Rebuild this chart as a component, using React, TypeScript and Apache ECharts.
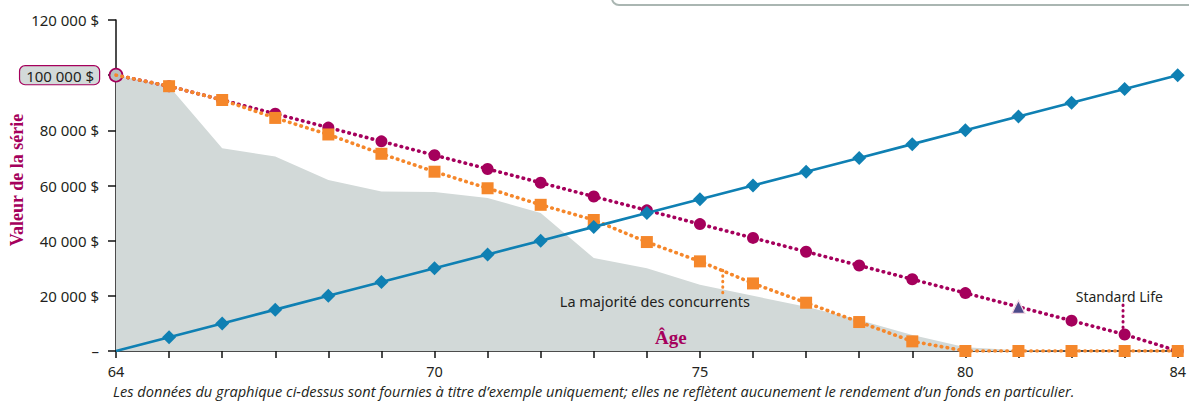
import React, { useEffect, useRef } from "react";
import * as echarts from "echarts";

const ages = [64, 65, 66, 67, 68, 69, 70, 71, 72, 73, 74, 75, 76, 77, 78, 79, 80, 81, 82, 83, 84];
const blueValues = [0, 5000, 10000, 15000, 20000, 25000, 30000, 35000, 40000, 45000, 50000, 55000, 60000, 65000, 70000, 75000, 80000, 85000, 90000, 95000, 100000];
const purpleValues = [100000, 96000, 91000, 86000, 81000, 76000, 71000, 66000, 61000, 56000, 51000, 46000, 41000, 36000, 31000, 26000, 21000, 16000, 11000, 6000, 0];
const orangeValues = [100000, 96000, 91000, 84500, 78500, 71500, 65000, 59000, 53000, 47500, 39500, 32500, 24500, 17500, 10500, 3500, 0, 0, 0, 0, 0];
const greyValues = [100000, 96000, 73500, 70500, 62000, 57800, 57600, 55500, 50000, 33700, 30000, 24000, 20000, 16000, 11200, 5800, 1400, 300, 0, 0, 0];
const xLabels = [64, 70, 75, 80, 84];
const highlightValue = 100000;
const triangleAge = 81;

const PURPLE = "#a5005c";
const ORANGE = "#f5872b";
const BLUE = "#0f80b3";
const GREY = "#d2d9d8";
const TEXT = "#231f20";

function fmt(v: number): string {
  return String(v).replace(/\B(?=(\d{3})+(?!\d))/g, "\u00a0") + "\u00a0$";
}

export default function App() {
  const ref = useRef<HTMLDivElement>(null);
  useEffect(() => {
    if (!ref.current) return;
    const chart = echarts.init(ref.current, null, { renderer: "svg" });
    const dots = { type: [0.5, 5.5] as any, cap: "round" as any, width: 3.6 };
    chart.setOption({
      animation: false,
      grid: { left: 116, right: 9, top: 20, bottom: 51 },
      xAxis: {
        type: "value",
        min: 64,
        max: 84,
        interval: 1,
        axisLine: { show: true, onZero: false, lineStyle: { color: "#111", width: 1.5 } },
        axisTick: { show: true, length: 7, lineStyle: { color: "#111", width: 1.5 } },
        splitLine: { show: false },
        axisLabel: {
          margin: 12,
          fontFamily: "Noto Sans",
          fontSize: 14.5,
          color: TEXT,
          formatter: (v: number) => (xLabels.includes(v) ? String(v) : ""),
        },
      },
      yAxis: {
        type: "value",
        min: 0,
        max: 120000,
        interval: 20000,
        axisLine: { show: true, lineStyle: { color: "#111", width: 1.5 } },
        axisTick: { show: true, length: 8, lineStyle: { color: "#111", width: 1.5 } },
        splitLine: { show: false },
        axisLabel: {
          margin: 17,
          fontFamily: "Noto Sans",
          fontSize: 15,
          color: TEXT,
          formatter: (v: number) =>
            v === 0 ? "–" : v === highlightValue ? "{box|" + fmt(v) + "}" : fmt(v),
          rich: {
            box: {
              fontFamily: "Noto Sans",
              fontSize: 15,
              color: TEXT,
              backgroundColor: "#d3dad9",
              borderColor: PURPLE,
              borderWidth: 1.2,
              borderRadius: 5,
              padding: [2, 5, 1, 6],
            },
          },
        },
      },
      series: [
        {
          type: "line",
          data: ages.map((a, i) => [a, greyValues[i]]),
          symbol: "none",
          lineStyle: { width: 0 },
          areaStyle: { color: GREY, opacity: 1 },
          z: 1,
        },
        {
          type: "line",
          data: ages.map((a, i) => {
            if (i === 0)
              return {
                value: [a, purpleValues[i]],
                symbol: "circle",
                symbolSize: 13,
                itemStyle: { color: "#b9c1c0", borderColor: PURPLE, borderWidth: 1.6 },
              };
            if (a === triangleAge)
              return {
                value: [a, purpleValues[i]],
                symbol: "triangle",
                symbolSize: 13,
                itemStyle: { color: "#4d4a8a", borderColor: "#f3d6e4", borderWidth: 1.2 },
              };
            return [a, purpleValues[i]];
          }),
          symbol: "circle",
          symbolSize: 12,
          itemStyle: { color: PURPLE },
          lineStyle: { color: PURPLE, ...dots },
          z: 3,
        },
        {
          type: "line",
          data: ages.map((a, i) =>
            i === 0 ? { value: [a, orangeValues[i]], symbol: "none" } : [a, orangeValues[i]]
          ),
          symbol: "rect",
          symbolSize: 12,
          itemStyle: { color: ORANGE },
          lineStyle: { color: ORANGE, ...dots },
          z: 4,
        },
        {
          type: "line",
          data: ages.map((a, i) =>
            i === 0 ? { value: [a, blueValues[i]], symbol: "none" } : [a, blueValues[i]]
          ),
          symbol: "diamond",
          symbolSize: 14,
          itemStyle: { color: BLUE },
          lineStyle: { color: BLUE, width: 2.6 },
          z: 5,
        },
      ],
    });

    const p = (x: number, y: number) => chart.convertToPixel({ gridIndex: 0 }, [x, y]) as number[];
    const lead1a = p(75.43, 29300);
    const lead1b = p(75.43, 21000);
    const txt1 = p(74.15, 18000);
    const lead2a = p(82.97, 16700);
    const lead2b = p(82.97, 7600);
    const txt2 = p(82.9, 19600);
    const ageT = p(74.45, 5000);

    chart.setOption({
      graphic: [
        {
          type: "rect",
          shape: { x: 612, y: -30, width: 620, height: 35, r: 7 },
          style: { fill: "#fff", stroke: "#aab6b2", lineWidth: 2 },
          z: 10,
        },
        {
          type: "text",
          x: 17,
          y: 180,
          rotation: Math.PI / 2,
          style: {
            text: "Valeur de la série",
            fill: PURPLE,
            font: "bold 18px 'Liberation Serif'",
            textAlign: "center",
            textVerticalAlign: "middle",
          },
        },
        {
          type: "text",
          x: ageT[0],
          y: ageT[1],
          style: {
            text: "Âge",
            fill: PURPLE,
            font: "bold 19px 'Liberation Serif'",
            textAlign: "center",
            textVerticalAlign: "middle",
          },
          z: 10,
        },
        {
          type: "line",
          shape: { x1: lead1a[0], y1: lead1a[1], x2: lead1b[0], y2: lead1b[1] },
          style: { stroke: ORANGE, lineWidth: 3, lineDash: [0.5, 5], lineCap: "round" },
          z: 10,
        },
        {
          type: "text",
          x: txt1[0],
          y: txt1[1],
          style: {
            text: "La majorité des concurrents",
            fill: TEXT,
            font: "14.5px 'Noto Sans'",
            textAlign: "center",
            textVerticalAlign: "middle",
          },
          z: 10,
        },
        {
          type: "line",
          shape: { x1: lead2a[0], y1: lead2a[1], x2: lead2b[0], y2: lead2b[1] },
          style: { stroke: PURPLE, lineWidth: 3, lineDash: [0.5, 5], lineCap: "round" },
          z: 10,
        },
        {
          type: "text",
          x: txt2[0],
          y: txt2[1],
          style: {
            text: "Standard Life",
            fill: TEXT,
            font: "14px 'Noto Sans'",
            textAlign: "center",
            textVerticalAlign: "middle",
          },
          z: 10,
        },
        {
          type: "text",
          x: 113,
          y: 391,
          style: {
            text: "Les données du graphique ci-dessus sont fournies à titre d’exemple uniquement; elles ne reflètent aucunement le rendement d’un fonds en particulier.",
            fill: TEXT,
            font: "italic 14.6px 'Open Sans'",
            textAlign: "left",
            textVerticalAlign: "middle",
          },
          z: 10,
        },
      ],
    });
    return () => chart.dispose();
  }, []);
  return <div ref={ref} style={{ width: 1189, height: 402, position: "absolute", left: 0, top: 0 }} />;
}
